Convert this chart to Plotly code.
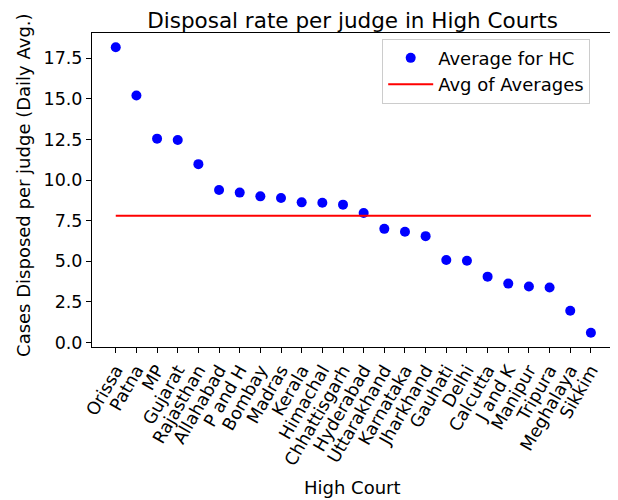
import plotly.graph_objects as go

# data
courts = ['Orissa', 'Patna', 'MP', 'Gujarat', 'Rajasthan', 'Allahabad', 'P and H',
          'Bombay', 'Madras', 'Kerala', 'Himachal', 'Chhattisgarh', 'Hyderabad',
          'Uttarakhand', 'Karnataka', 'Jharkhand', 'Gauhati', 'Delhi', 'Calcutta',
          'J and K', 'Manipur', 'Tripura', 'Meghalaya', 'Sikkim']
avg_per_hc = [18.17, 15.2, 12.55, 12.47, 10.98, 9.39, 9.23, 9.0, 8.9, 8.63, 8.61, 8.49,
              7.98, 7.0, 6.82, 6.55, 5.08, 5.04, 4.06, 3.63, 3.45, 3.39, 1.96, 0.61]
avg_of_avgs = 7.8

x_idx = list(range(len(courts)))

fig = go.Figure()
fig.add_trace(go.Scatter(
    x=x_idx, y=avg_per_hc, mode='markers', name='Average for HC',
    marker=dict(color='#0000ff', size=10)
))
fig.add_trace(go.Scatter(
    x=[x_idx[0], x_idx[-1]], y=[avg_of_avgs, avg_of_avgs], mode='lines',
    name='Avg of Averages', line=dict(color='#ff0000', width=2)
))

axis_style = dict(showline=True, linecolor='black', linewidth=1, mirror=True,
                  ticks='outside', ticklen=5, tickcolor='black', showgrid=False,
                  zeroline=False, automargin=False,
                  tickfont=dict(size=17.5, color='black'))

# page body has an 8px margin, so the figure is 8px smaller each way
fig.update_layout(
    width=610, height=492,
    font=dict(family='DejaVu Sans', color='black'),
    plot_bgcolor='white', paper_bgcolor='white',
    margin=dict(l=84, r=5, t=25, b=153),
    title=dict(text='Disposal rate per judge in High Courts', xref='paper', x=0.5,
               xanchor='center', y=0.975, yanchor='middle', font=dict(size=21.5)),
    xaxis=dict(range=[-1.15, 24.07], tickmode='array', tickvals=x_idx, ticktext=courts,
               tickangle=-60, **axis_style),
    yaxis=dict(range=[-0.27, 19.05], dtick=2.5, tick0=0, tickformat='.1f', **axis_style),
    legend=dict(x=0.557, y=0.982, xanchor='left', yanchor='top', bgcolor='white',
                bordercolor='#cccccc', borderwidth=1, itemwidth=45,
                font=dict(size=18)),
    showlegend=True,
    annotations=[
        dict(text='High Court', xref='paper', yref='paper', x=0.5, y=-0.449,
             xanchor='center', yanchor='middle', showarrow=False, font=dict(size=18)),
        dict(text='Cases Disposed per judge (Daily Avg.)', xref='paper', yref='paper',
             x=-0.1305, y=0.513, textangle=-90, xanchor='center', yanchor='middle',
             showarrow=False, font=dict(size=18)),
    ]
)

fig.write_html("out.html")
